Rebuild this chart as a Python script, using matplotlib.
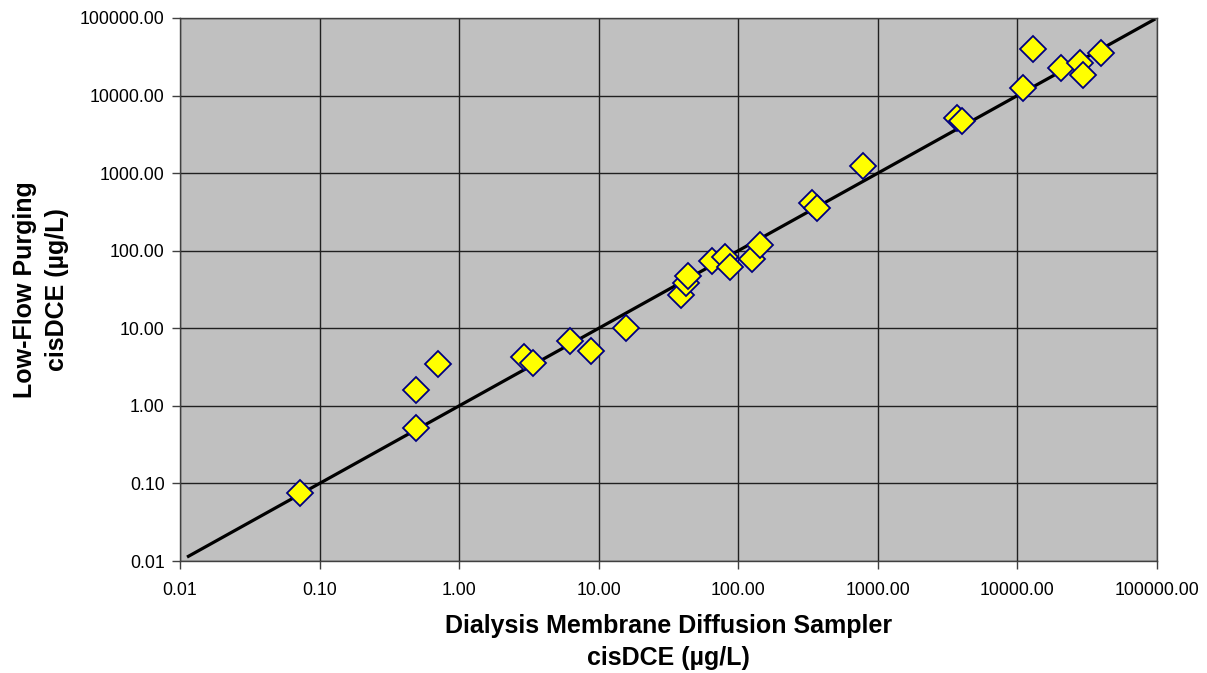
import matplotlib
matplotlib.use("Agg")
import matplotlib.pyplot as plt
from matplotlib.ticker import FixedLocator, FuncFormatter, NullLocator

plt.rcParams['font.family'] = ['Liberation Sans', 'DejaVu Sans']

# Dialysis membrane diffusion sampler cisDCE (ug/L)
dmds = [0.073, 0.49, 0.49, 0.70, 2.9, 3.4, 6.2, 8.8, 15.7, 38.8, 42, 43.5,
        65, 80, 87, 125, 143, 336, 366, 782, 3680, 4000, 10900, 12900,
        20500, 28000, 29400, 39500]
# Low-flow purging cisDCE (ug/L)
lfp = [0.075, 0.52, 1.6, 3.46, 4.25, 3.56, 6.8, 5.1, 10.0, 26.8, 38, 47,
       73.5, 83, 61.5, 78, 118, 410, 354, 1230, 5120, 4680, 12450, 39600,
       22500, 26200, 18300, 35200]
# 1:1 reference line
line_x = [0.0115, 95000]
line_y = [0.0115, 95000]

tick_vals = [0.01, 0.1, 1, 10, 100, 1000, 10000, 100000]

fig = plt.figure(figsize=(12.07, 6.73), dpi=100)
ax = fig.add_axes([0.1491, 0.1664, 0.8095, 0.8069])
ax.set_facecolor('#C0C0C0')
ax.set_xscale('log')
ax.set_yscale('log')
ax.set_xlim(0.01, 100000)
ax.set_ylim(0.01, 100000)

ax.plot(line_x, line_y, color='black', lw=2.3, zorder=2)
ax.plot(dmds, lfp, linestyle='none', marker='D', markersize=13.5,
        markerfacecolor='#FFFF00', markeredgecolor='#000080',
        markeredgewidth=1.3, zorder=3)

fmt = FuncFormatter(lambda v, p: f"{v:.2f}")
for axis in (ax.xaxis, ax.yaxis):
    axis.set_major_locator(FixedLocator(tick_vals))
    axis.set_minor_locator(NullLocator())
    axis.set_major_formatter(fmt)

ax.grid(True, which='major', color='#202020', lw=1.0)
ax.set_axisbelow(True)
for s in ax.spines.values():
    s.set_color('#404040')
    s.set_linewidth(1.0)
ax.tick_params(axis='both', which='major', direction='out', length=6,
               width=1, color='#404040', labelsize=12.8, labelcolor='black')
ax.tick_params(axis='x', pad=9)
ax.tick_params(axis='y', pad=5)

ax.set_xlabel("Dialysis Membrane Diffusion Sampler\ncisDCE (\u00b5g/L)",
              fontsize=18, fontweight='bold', labelpad=11, linespacing=1.4)
ax.set_ylabel("Low-Flow Purging\ncisDCE (\u00b5g/L)",
              fontsize=18, fontweight='bold', labelpad=8, linespacing=1.4)

fig.savefig("out.png", dpi=100)
